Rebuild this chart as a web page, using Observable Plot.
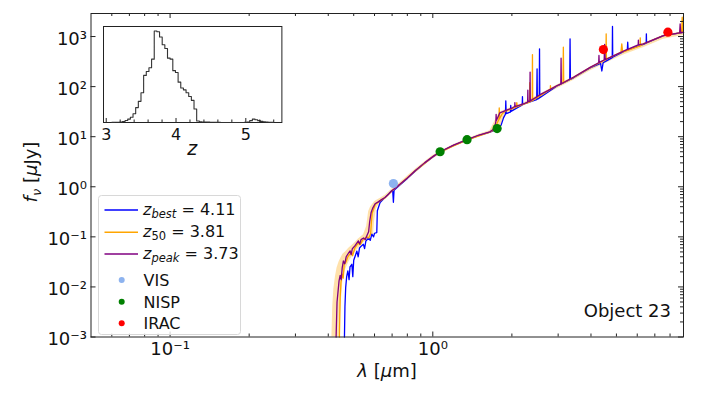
<!DOCTYPE html>
<html><head><meta charset="utf-8">
<script src="https://cdn.jsdelivr.net/npm/d3@7"></script>
<script src="https://cdn.jsdelivr.net/npm/@observablehq/plot@0.6"></script>
<style>
body{margin:0;background:#fff;}
#wrap{position:relative;width:703px;height:395px;font-family:"DejaVu Sans",sans-serif;}
#inset{position:absolute;left:98.3px;top:21px;}
</style></head><body><div id="wrap"><div id="main"></div><div id="inset"></div></div>
<script>
// ---------- DATA ----------
const xMajor = [0.1, 1];
const xMajorLabels = ["10\u207B\u00B9", "10\u2070"];
const xMinor = [0.06,0.07,0.08,0.09,0.2,0.3,0.4,0.5,0.6,0.7,0.8,0.9,2,3,4,5,6,7,8,9];
const yMajor = [1e-3,1e-2,1e-1,1,10,100,1000];
const yMajorLabels = ["10\u207B\u00B3","10\u207B\u00B2","10\u207B\u00B9","10\u2070","10\u00B9","10\u00B2","10\u00B3"];
const yMinor = [2e-3,3e-3,4e-3,5e-3,6e-3,7e-3,8e-3,9e-3,2e-2,3e-2,4e-2,5e-2,6e-2,7e-2,8e-2,9e-2,
  0.2,0.3,0.4,0.5,0.6,0.7,0.8,0.9,2,3,4,5,6,7,8,9,20,30,40,50,60,70,80,90,200,300,400,500,600,700,800,900,2000];

// SED of z_best = 4.11 (blue)  [lambda (um), f_nu (uJy)]
const sedBest = [[0.461,0.001],[0.463,0.004],[0.466,0.0097],[0.47,0.016],[0.475,0.021],[0.48,0.014],[0.484,0.025],[0.492,0.0283],[0.496,0.016],[0.5,0.034],[0.507,0.042],[0.514,0.052],[0.52,0.04],[0.526,0.06],[0.535,0.066],[0.544,0.071],[0.55,0.058],[0.556,0.082],[0.57,0.095],[0.578,0.085],[0.586,0.113],[0.595,0.1],[0.6,0.118],[0.612,0.122],[0.615,0.331],[0.63,0.485],[0.66,0.62],[0.698,0.83],[0.704,0.8],[0.708,0.49],[0.712,0.85],[0.751,1.1],[0.8,1.47],[0.856,2.05],[0.93,2.95],[1.0,3.95],[1.066,4.95],[1.2,6.7],[1.35,8.6],[1.5,10.6],[1.65,12.3],[1.75,14],[1.82,17],[1.86,24],[1.89,28],[1.896,52],[1.902,29],[1.975,31],[1.98,42],[1.985,32],[2.1,38],[2.19,43],[2.194,63],[2.198,44],[2.3,48],[2.486,55],[2.494,226],[2.5,56],[2.542,59],[2.548,567],[2.554,60],[2.96,102],[3.32,138],[3.33,900],[3.34,140],[3.43,150],[3.97,236],[4.35,290],[4.4,205],[4.45,300],[4.6,330],[4.82,380],[4.83,1585],[4.84,385],[5.32,500],[5.5,540],[5.52,770],[5.54,545],[6.33,700],[6.49,740],[6.5,1130],[6.51,745],[7.55,1040],[9.0,1210]];
// SED of z_50 = 3.81 (orange)
const sed50 = [[0.441,0.001],[0.444,0.006],[0.447,0.012],[0.452,0.018],[0.456,0.015],[0.46,0.028],[0.468,0.032],[0.475,0.04],[0.49,0.05],[0.495,0.042],[0.505,0.06],[0.52,0.075],[0.53,0.07],[0.54,0.085],[0.56,0.1],[0.57,0.095],[0.58,0.115],[0.584,0.2],[0.588,0.3],[0.605,0.45],[0.625,0.51],[0.658,0.6],[0.698,0.82],[0.751,1.12],[0.856,2.07],[1.0,3.98],[1.066,4.98],[1.35,8.65],[1.65,12.4],[1.72,13.8],[1.76,19],[1.785,22],[1.79,37.5],[1.795,23],[1.84,29],[1.9,33],[2.08,39],[2.088,48],[2.096,40],[2.2,44],[2.334,49],[2.338,120],[2.342,50],[2.39,52],[2.395,437],[2.4,53],[2.8,88],[2.804,105],[2.808,89],[2.96,103],[3.13,118],[3.14,611],[3.15,120],[3.43,152],[3.97,240],[4.56,350],[4.57,1130],[4.58,355],[5.2,480],[5.24,715],[5.28,490],[6.15,650],[6.16,942],[6.17,655],[6.33,710],[7.55,1040],[8.85,1200],[8.9,2430],[8.95,1205],[9.0,1215]];
// SED of z_peak = 3.73 (purple)
const sedPeak = [[0.4285,0.001],[0.432,0.005],[0.4397,0.0132],[0.444,0.017],[0.448,0.014],[0.452,0.024],[0.4567,0.033],[0.462,0.029],[0.468,0.04],[0.476,0.046],[0.4844,0.0525],[0.489,0.044],[0.494,0.058],[0.505,0.066],[0.5208,0.083],[0.527,0.072],[0.533,0.088],[0.545,0.095],[0.553,0.088],[0.561,0.105],[0.5697,0.126],[0.575,0.2],[0.582,0.302],[0.59,0.37],[0.603,0.457],[0.62,0.5],[0.64,0.56],[0.658,0.611],[0.68,0.72],[0.698,0.83],[0.72,0.95],[0.751,1.13],[0.8,1.5],[0.856,2.09],[0.93,3.0],[1.0,4.0],[1.066,5.0],[1.2,6.8],[1.35,8.7],[1.5,10.8],[1.65,12.5],[1.7,14],[1.73,18],[1.738,20],[1.742,28],[1.746,21],[1.76,23],[1.8,30],[1.91,34],[2.0,37],[2.05,40],[2.053,48],[2.056,40],[2.21,45],[2.296,49],[2.3,85],[2.304,50],[2.342,51],[2.346,195],[2.35,52],[2.56,69],[2.8,88],[2.96,104],[3.07,112],[3.078,370],[3.086,114],[3.43,154],[3.97,242],[4.28,300],[4.29,420],[4.3,305],[4.49,340],[4.51,700],[4.53,345],[4.6,358],[5.32,510],[6.05,680],[6.06,850],[6.07,685],[6.33,715],[7.55,1047],[8.7,1180],[8.74,1795],[8.78,1190],[9.0,1220]];
// 1-sigma band (orange shading)
const bandLam = [0.413,0.416,0.42,0.426,0.432,0.44,0.447,0.455,0.465,0.48,0.5,0.52,0.545,0.56,0.57,0.58,0.595,0.6,0.61,0.625,0.66,0.7,0.75,0.856,1.0,1.2,1.5,1.65,1.72,1.8,1.9,2.2,2.56,2.96,3.43,3.97,4.6,5.32,6.33,7.55,9.0];
const bandLo  = [0.001,0.001,0.001,0.001,0.001,0.001,0.004,0.014,0.022,0.032,0.045,0.058,0.075,0.085,0.092,0.1,0.11,0.2,0.36,0.45,0.57,0.75,1.0,1.85,3.6,6.2,9.8,11.5,12.5,15,28,40,60,90,132,205,300,430,600,880,1050];
const bandHi  = [0.001,0.004,0.009,0.016,0.024,0.032,0.038,0.045,0.05,0.06,0.072,0.09,0.11,0.16,0.32,0.4,0.47,0.5,0.53,0.57,0.68,0.9,1.2,2.2,4.2,7.0,11.2,13.2,20,31,35,46,70,106,156,245,362,520,725,1060,1240];
// photometry
const visLam = [0.708], visFlux = [1.16];
const nispLam = [1.066, 1.35, 1.757], nispFlux = [5.0, 8.7, 14.5];
const iracLam = [4.46, 7.85], iracFlux = [550, 1220];
// legend
const lineNames = ["best","50","peak"];
const lineValues = ["4.11","3.81","3.73"];
const lineColors = ["blue","orange","purple"];
const pointNames = ["VIS","NISP","IRAC"];
const pointColors = ["#8db3ef","green","red"];
// redshift PDF histogram (inset): bin starts and counts
const zBins = [3.080,3.118,3.156,3.194,3.232,3.270,3.308,3.346,3.384,3.422,3.460,3.498,3.536,3.574,3.612,3.650,3.688,3.726,3.764,3.802,3.840,3.878,3.916,3.954,3.992,4.030,4.068,4.106,4.144,4.182,4.220,4.258,4.296,4.334,4.372,4.410,4.448,4.486,4.524,4.562,4.600,4.638,4.676,4.714,4.752,4.790,4.828,4.866,4.904,4.942,4.980,5.018,5.056,5.094,5.132,5.170,5.208,5.246,5.284,5.322,5.360];
const zCounts = [1,2,3,5,11,21,37,58,95,163,231,326,515,557,599,693,1000,993,935,851,809,704,693,567,546,441,378,357,326,284,242,147,16,8,6,5,4,3,2,1,1,0,0,0,0,0,0,0,0,0,3,6,20,37,30,20,12,8,5,3,1];
const zTicksMajor = [3,4,5];
const zTicksMinor = [3.2,3.4,3.6,3.8,4.2,4.4,4.6,4.8,5.2,5.4];

// ---------- MAIN PLOT ----------
const xMin = 0.05, xMax = 9, yMin = 1e-3, yMax = Math.pow(10, 3.46);
const mL = 90.5, mR = 20, mT = 13, mB = 58.5, Wd = 703, Ht = 395;
const FW = Wd - mL - mR, FH = Ht - mT - mB;
const fy = len => Math.pow(yMax / yMin, len / FH);
const fx = len => Math.pow(xMax / xMin, len / FW);
const ink = "#222";
const toObj = a => a.map(([l, f]) => ({l, f}));
const band = bandLam.map((l, i) => ({l, lo: bandLo[i], hi: bandHi[i]}));
const pts = (L, F) => L.map((l, i) => ({l, f: F[i]}));

const main = Plot.plot({
  width: Wd, height: Ht,
  marginLeft: mL, marginRight: mR, marginTop: mT, marginBottom: mB,
  x: {type: "log", domain: [xMin, xMax]},
  y: {type: "log", domain: [yMin, yMax]},
  style: {fontFamily: "DejaVu Sans", fontSize: "18px", background: "white", color: "#111"},
  marks: [
    Plot.areaY(band, {x: "l", y1: "lo", y2: "hi", fill: "orange", fillOpacity: 0.33, curve: "linear"}),
    Plot.line(toObj(sedBest), {x: "l", y: "f", stroke: lineColors[0], strokeWidth: 1.3}),
    Plot.line(toObj(sed50), {x: "l", y: "f", stroke: lineColors[1], strokeWidth: 1.3}),
    Plot.line(toObj(sedPeak), {x: "l", y: "f", stroke: lineColors[2], strokeWidth: 1.3}),
    Plot.dot(pts(visLam, visFlux), {x: "l", y: "f", r: 4.6, fill: pointColors[0]}),
    Plot.dot(pts(nispLam, nispFlux), {x: "l", y: "f", r: 4.6, fill: pointColors[1]}),
    Plot.dot(pts(iracLam, iracFlux), {x: "l", y: "f", r: 4.6, fill: pointColors[2]}),
    Plot.frame({stroke: ink, strokeWidth: 1}),
    // inward ticks
    Plot.ruleX(xMajor, {x: d => d, y1: yMin, y2: yMin * fy(5), stroke: ink}),
    Plot.ruleX(xMinor, {x: d => d, y1: yMin, y2: yMin * fy(3), stroke: ink}),
    Plot.ruleX(xMajor, {x: d => d, y1: yMax, y2: yMax / fy(5), stroke: ink}),
    Plot.ruleX(xMinor, {x: d => d, y1: yMax, y2: yMax / fy(3), stroke: ink}),
    Plot.ruleY(yMajor, {y: d => d, x1: xMin, x2: xMin * fx(5), stroke: ink}),
    Plot.ruleY(yMajor, {y: d => d, x1: xMax, x2: xMax / fx(5), stroke: ink}),
    Plot.ruleY(yMinor, {y: d => d, x1: xMax, x2: xMax / fx(3), stroke: ink}),
    Plot.axisX(xMajor, {tickSize: 0, tickPadding: 5, tickFormat: d => xMajorLabels[xMajor.indexOf(d)], label: null, fill: "#111"}),
    Plot.axisY(yMajor, {tickSize: 0, tickPadding: 4, dy: 2.5, tickFormat: d => yMajorLabels[yMajor.indexOf(d)], label: null, fill: "#111"})
  ]
});
document.getElementById("main").appendChild(main);

const svg = d3.select(main);
// axis labels
const xl = svg.append("text").attr("x", 387).attr("y", 377).attr("text-anchor", "middle")
  .attr("font-family", "DejaVu Sans").attr("font-size", 18).attr("fill", "#111");
xl.append("tspan").attr("font-style", "italic").text("\u03BB");
xl.append("tspan").text(" [");
xl.append("tspan").attr("font-style", "italic").text("\u03BC");
xl.append("tspan").text("m]");
const yl = svg.append("text").attr("transform", "translate(37,172) rotate(-90)").attr("text-anchor", "middle")
  .attr("font-family", "DejaVu Sans").attr("font-size", 18).attr("fill", "#111");
yl.append("tspan").attr("font-style", "italic").text("f");
yl.append("tspan").attr("font-style", "italic").attr("font-size", 13).attr("dy", 4).text("\u03BD");
yl.append("tspan").attr("dy", -4).text(" [");
yl.append("tspan").attr("font-style", "italic").text("\u03BC");
yl.append("tspan").text("Jy]");
// object label
svg.append("text").attr("x", 671).attr("y", 317).attr("text-anchor", "end")
  .attr("font-family", "DejaVu Sans").attr("font-size", 18).attr("fill", "#111").text("Object 23");
// legend
const lg = svg.append("g").attr("font-family", "DejaVu Sans").attr("font-size", 16).attr("fill", "#111")
  .attr("text-anchor", "start");
lg.append("rect").attr("x", 98.5).attr("y", 195.5).attr("width", 142).attr("height", 139).attr("rx", 3)
  .attr("fill", "white").attr("fill-opacity", 0.8).attr("stroke", "#d8d8d8");
const rowL = [210, 232.3, 254];
lineNames.forEach((n, i) => {
  lg.append("line").attr("x1", 104.5).attr("x2", 138).attr("y1", rowL[i]).attr("y2", rowL[i])
    .attr("stroke", lineColors[i]).attr("stroke-width", 1.4);
  const t = lg.append("text").attr("x", 143).attr("y", rowL[i] + 4.5).attr("text-anchor", "start");
  t.append("tspan").attr("font-style", "italic").text("z");
  t.append("tspan").attr("font-style", /\d/.test(n) ? "normal" : "italic").attr("font-size", 11.5).attr("dy", 3.5).text(n);
  t.append("tspan").attr("dy", -3.5).text(" = " + lineValues[i]);
});
const rowP = [280, 301.7, 323.3];
pointNames.forEach((n, i) => {
  lg.append("circle").attr("cx", 121.7).attr("cy", rowP[i]).attr("r", 3).attr("fill", pointColors[i]);
  lg.append("text").attr("x", 143.5).attr("y", rowP[i] + 5.8).attr("text-anchor", "start").text(n);
});

// ---------- INSET HISTOGRAM ----------
const zw = zBins[zBins.length - 1] - zBins[zBins.length - 2];
const zEnd = zBins[zBins.length - 1] + zw;
const histPts = [{z: zBins[0], c: 0}]
  .concat(zBins.map((z, i) => ({z, c: zCounts[i]})))
  .concat([{z: zEnd, c: zCounts[zCounts.length - 1]}, {z: zEnd, c: 0}]);
const iW = 188.4, iH = 141, iL = 5, iR = 5, iT = 5, iB = 40;
const iFH = iH - iT - iB, yTop = 1050;
const inset = Plot.plot({
  width: iW, height: iH, marginLeft: iL, marginRight: iR, marginTop: iT, marginBottom: iB,
  x: {domain: [2.961, 5.517]}, y: {domain: [0, yTop], axis: null},
  style: {fontFamily: "DejaVu Sans", fontSize: "16px", background: "transparent", color: "#111"},
  marks: [
    Plot.frame({fill: "white", stroke: ink}),
    Plot.line(histPts, {x: "z", y: "c", curve: "step-after", stroke: "#333", strokeWidth: 1.1}),
    Plot.ruleX(zTicksMajor, {x: d => d, y1: 0, y2: yTop * 4 / iFH, stroke: ink}),
    Plot.ruleX(zTicksMinor, {x: d => d, y1: 0, y2: yTop * 2.5 / iFH, stroke: ink}),
    Plot.axisX(zTicksMajor, {tickSize: 0, tickPadding: 6.5, label: null, fill: "#111"})
  ]
});
document.getElementById("inset").appendChild(inset);
d3.select(inset).append("text").attr("x", iL + (iW - iL - iR) / 2).attr("y", 134).attr("text-anchor", "middle")
  .attr("font-family", "DejaVu Sans").attr("font-size", 19).attr("font-style", "italic").attr("fill", "#111").text("z");
</script>
</body></html>
